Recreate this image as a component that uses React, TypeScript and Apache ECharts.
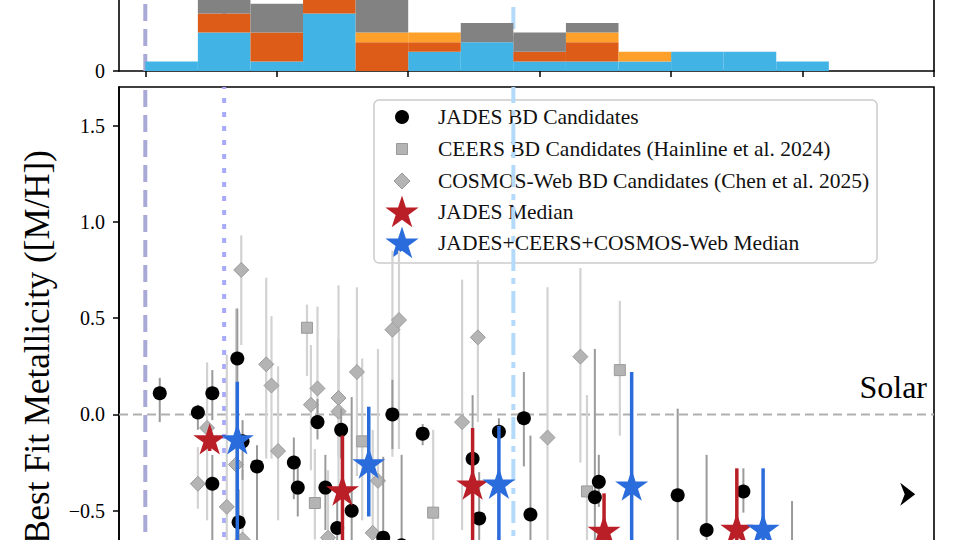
import React, { useEffect, useRef } from "react";
import * as echarts from "echarts";

// ---------- axes ----------
const xTicks = [0, 1, 2, 3, 4, 5, 6];
const yTicks = [-1.0, -0.5, 0.0, 0.5, 1.0, 1.5];
const yTickLabels = [-0.5, 0.0, 0.5, 1.0, 1.5];
const histYTicks = [0];

// ---------- top histogram (stacked counts per bin) ----------
const binEdges = [0, 0.4, 0.8, 1.2, 1.6, 2.0, 2.4, 2.8, 3.2, 3.6, 4.0, 4.4, 4.8, 5.2];
const histLightBlue = [1, 4, 1, 6, 0, 2, 3, 1, 1, 1, 2, 2, 1];
const histDarkOrange = [0, 2, 3, 2, 3, 1, 0, 1, 2, 0, 0, 0, 0];
const histOrange = [0, 0, 0, 0, 1, 1, 0, 0, 1, 1, 0, 0, 0];
const histGray = [0, 3, 3, 0, 4, 0, 2, 2, 1, 0, 0, 0, 0];

// ---------- JADES BD candidates ----------
const jadesX = [0.11, 0.40, 0.51, 0.51, 0.70, 0.74, 0.71, 0.85, 1.13, 1.16, 1.31, 1.49, 1.37, 1.57, 1.46, 1.81, 1.95, 1.88, 2.11, 2.49, 2.54, 2.69, 2.88, 2.93, 3.45, 3.42, 4.05, 4.27, 4.55, 4.92];
const jadesY = [0.11, 0.01, 0.11, -0.36, 0.29, -0.14, -0.56, -0.27, -0.25, -0.38, -0.04, -0.08, -0.38, -0.50, -0.59, -0.64, -0.68, 0.0, -0.10, -0.23, -0.54, -0.09, -0.02, -0.52, -0.35, -0.43, -0.42, -0.60, -0.40, -0.76];
const jadesLo = [-0.04, -0.08, -0.03, -0.76, 0.08, -0.34, -0.81, -0.86, -0.44, -0.53, -0.13, -0.23, -0.60, -0.72, -0.76, -0.86, -0.96, -0.18, -0.16, -0.55, -0.76, -0.18, -0.27, -0.81, -0.48, -0.76, -0.86, -0.96, -0.51, -1.07];
const jadesHi = [0.19, 0.05, 0.23, -0.21, 0.55, -0.03, -0.39, -0.16, -0.12, -0.22, 0.08, 0.03, -0.21, 0.09, -0.44, -0.22, -0.21, 0.18, -0.05, 0.10, -0.30, -0.02, 0.22, -0.11, -0.21, 0.34, 0.03, -0.21, -0.28, -0.45];

// ---------- CEERS (Hainline et al. 2024) ----------
const ceersX = [1.23, 1.29, 1.65, 2.19, 3.36, 3.61];
const ceersY = [0.45, -0.46, -0.14, -0.51, -0.40, 0.23];
const ceersLo = [0.20, -0.65, -0.55, -0.76, -0.76, -0.11];
const ceersHi = [0.57, -0.18, 0.29, -0.08, 0.10, 0.59];

// ---------- COSMOS-Web (Chen et al. 2025) ----------
const cosmosX = [0.40, 0.47, 0.62, 0.69, 0.73, 0.74, 0.92, 0.96, 1.01, 1.26, 1.31, 1.39, 1.47, 1.47, 1.61, 1.73, 1.77, 1.88, 1.93, 2.41, 2.53, 3.06, 3.31];
const cosmosY = [-0.36, -0.07, -0.48, -0.26, 0.75, -0.65, 0.26, 0.15, -0.19, 0.05, 0.135, -0.64, 0.085, 0.015, 0.22, -0.615, -0.345, 0.44, 0.49, -0.04, 0.40, -0.12, 0.30];
const cosmosLo = [-0.49, -0.55, -0.76, -0.65, 0.36, -1.07, -0.23, -0.23, -0.55, -0.29, -0.08, -0.96, -0.22, -0.44, -0.32, -0.96, -0.65, -0.22, -0.18, -0.60, -0.04, -0.76, -0.25];
const cosmosHi = [-0.17, 0.27, 0.31, 0.55, 0.93, -0.29, 0.71, 0.51, 0.25, 0.36, 0.56, -0.29, 0.67, 0.39, 0.66, -0.08, 0.34, 0.85, 0.85, 0.70, 0.80, 0.66, 0.76];

// ---------- medians ----------
const jadesMedX = [0.49, 1.50, 2.49, 3.49, 4.50];
const jadesMedY = [-0.135, -0.40, -0.37, -0.61, -0.60];
const jadesMedLo = [-0.19, -1.0, -1.0, -0.9, -0.9];
const jadesMedHi = [-0.08, -0.11, -0.07, -0.41, -0.28];

const allMedX = [0.70, 1.70, 2.69, 3.70, 4.70];
const allMedY = [-0.135, -0.26, -0.365, -0.375, -0.60];
const allMedLo = [-1.0, -0.53, -1.0, -1.0, -0.95];
const allMedHi = [0.17, 0.04, -0.06, 0.22, -0.28];

// ---------- limit marker ----------
const limitX = [5.80];
const limitY = [-0.415];

// ---------- reference lines ----------
const refLines = [0.0, 0.6, 2.8];
const solarY = 0.0;

const X_MIN = -0.2;
const X_MAX = 6.0;
const Y_MIN = -1.0;
const Y_MAX = 1.7;
const H_MAX = 7.4;

const FONT = "'Liberation Serif', 'DejaVu Serif', serif";
const C_LIGHTBLUE = "#42b3e5";
const C_DARKORANGE = "#dc5c18";
const C_ORANGE = "#fea02a";
const C_GRAY = "#828282";
const C_RED = "#ba1f28";
const C_BLUE = "#2b6cdc";

const STAR_PATH =
  "path://M0,-100L22.45,-30.9L95.1,-30.9L36.3,11.8L58.8,80.9L0,38.2L-58.8,80.9L-36.3,11.8L-95.1,-30.9L-22.45,-30.9Z";

function starPoints(cx: number, cy: number, R: number) {
  const pts: number[][] = [];
  for (let k = 0; k < 10; k++) {
    const ang = ((-90 + k * 36) * Math.PI) / 180;
    const rad = k % 2 === 0 ? R : R * 0.382;
    pts.push([cx + rad * Math.cos(ang), cy + rad * Math.sin(ang)]);
  }
  return pts;
}

function errSeries(xs: number[], los: number[], his: number[], color: string, width: number, z: number) {
  return {
    type: "custom",
    xAxisIndex: 1,
    yAxisIndex: 2,
    z,
    clip: true,
    silent: true,
    data: xs.map((x, i) => [x, los[i], his[i]]),
    encode: { x: 0, y: [1, 2] },
    renderItem: (_p: any, api: any) => {
      const a = api.coord([api.value(0), api.value(1)]);
      const b = api.coord([api.value(0), api.value(2)]);
      return {
        type: "line",
        shape: { x1: a[0], y1: a[1], x2: b[0], y2: b[1] },
        style: { stroke: color, lineWidth: width },
      };
    },
  };
}

function vLineSeries(x: number, xi: number, yi: number, y0: number, y1: number, style: any, z: number) {
  return {
    type: "custom",
    xAxisIndex: xi,
    yAxisIndex: yi,
    z,
    clip: true,
    silent: true,
    data: [[x]],
    encode: { x: 0 },
    renderItem: (_p: any, api: any) => {
      const a = api.coord([api.value(0), y0]);
      const b = api.coord([api.value(0), y1]);
      return { type: "line", shape: { x1: a[0], y1: a[1], x2: b[0], y2: b[1] }, style };
    },
  };
}

function histSeries(vals: number[], base: number[], color: string) {
  return {
    type: "custom",
    xAxisIndex: 0,
    yAxisIndex: 0,
    z: 3,
    clip: true,
    silent: true,
    data: vals
      .map((v, i) => [binEdges[i], binEdges[i + 1], base[i], base[i] + v])
      .filter((d) => d[3] > d[2]),
    encode: { x: [0, 1], y: [2, 3] },
    renderItem: (_p: any, api: any) => {
      const tl = api.coord([api.value(0), api.value(3)]);
      const br = api.coord([api.value(1), api.value(2)]);
      return {
        type: "rect",
        shape: { x: tl[0], y: tl[1], width: br[0] - tl[0], height: br[1] - tl[1] },
        style: { fill: color, stroke: null },
      };
    },
  };
}

const scatter = (xs: number[], ys: number[], extra: any) => ({
  type: "scatter",
  xAxisIndex: 1,
  yAxisIndex: 2,
  silent: true,
  data: xs.map((x, i) => [x, ys[i]]),
  ...extra,
});

export default function App() {
  const ref = useRef<HTMLDivElement>(null);
  useEffect(() => {
    if (!ref.current) return;
    const chart = echarts.init(ref.current, null, { renderer: "svg" });

    const base1 = histLightBlue.slice();
    const base2 = base1.map((b, i) => b + histDarkOrange[i]);
    const base3 = base2.map((b, i) => b + histOrange[i]);
    const zeros = histLightBlue.map(() => 0);

    const refStyles = [
      { stroke: "#a9a9d8", lineWidth: 4, lineDash: [17, 8] },
      { stroke: "#a8a8fc", lineWidth: 4, lineDash: [5, 9] },
      { stroke: "#b3dafa", lineWidth: 4, lineDash: [22, 7, 6, 7] },
    ];

    const legendRows = [117, 149, 181, 212, 243];
    const legendTexts = [
      "JADES BD Candidates",
      "CEERS BD Candidates (Hainline et al. 2024)",
      "COSMOS-Web BD Candidates (Chen et al. 2025)",
      "JADES Median",
      "JADES+CEERS+COSMOS-Web Median",
    ];
    const mx = 402;

    const line = { show: true, onZero: false, lineStyle: { color: "#000", width: 1.6 } };
    const tick = (vals: number[]) => ({
      show: true, length: 6, customValues: vals, lineStyle: { color: "#000", width: 1.5 },
    });

    chart.setOption({
      animation: false,
      backgroundColor: "#ffffff",
      grid: [
        { left: 119, right: 26, top: 0, height: 71, show: false },
        { left: 119, right: 26, top: 87, height: 520, show: true, borderColor: "#000", borderWidth: 1.6, backgroundColor: "transparent" },
      ],
      xAxis: [
        { type: "value", gridIndex: 0, min: X_MIN, max: X_MAX, axisLine: line, splitLine: { show: false }, axisTick: tick(xTicks), axisLabel: { show: false } },
        { type: "value", gridIndex: 1, min: X_MIN, max: X_MAX, axisLine: line, splitLine: { show: false }, axisTick: tick(xTicks), axisLabel: { show: false } },
      ],
      yAxis: [
        {
          type: "value", gridIndex: 0, min: 0, max: H_MAX,
          axisLine: line, splitLine: { show: false },
          axisTick: tick(histYTicks),
          axisLabel: { show: true, customValues: histYTicks, fontFamily: FONT, fontSize: 20, color: "#000", margin: 14 },
        },
        {
          type: "value", gridIndex: 0, min: 0, max: H_MAX, position: "right",
          axisLine: line,
          axisTick: { show: false }, axisLabel: { show: false }, splitLine: { show: false },
        },
        {
          type: "value", gridIndex: 1, min: Y_MIN, max: Y_MAX,
          axisLine: line, splitLine: { show: false },
          axisTick: tick(yTicks),
          axisLabel: {
            show: true, customValues: yTickLabels, fontFamily: FONT, fontSize: 20, color: "#000", margin: 14,
            formatter: (v: number) => v.toFixed(1).replace("-", "\u2212"),
          },
          name: "Best Fit Metallicity ([M/H])",
          nameLocation: "middle",
          nameGap: 64,
          nameTextStyle: { fontFamily: FONT, fontSize: 35, color: "#000" },
        },
      ],
      series: [
        ...refLines.map((x, i) => vLineSeries(x, 0, 0, 0, H_MAX, refStyles[i], 1)),
        histSeries(histLightBlue, zeros, C_LIGHTBLUE),
        histSeries(histDarkOrange, base1, C_DARKORANGE),
        histSeries(histOrange, base2, C_ORANGE),
        histSeries(histGray, base3, C_GRAY),

        ...refLines.map((x, i) => vLineSeries(x, 1, 2, Y_MIN, Y_MAX, refStyles[i], 1)),
        {
          type: "custom", xAxisIndex: 1, yAxisIndex: 2, z: 1, clip: true, silent: true,
          data: [[solarY]], encode: { y: 0 },
          renderItem: (_p: any, api: any) => {
            const a = api.coord([X_MIN, api.value(0)]);
            const b = api.coord([X_MAX, api.value(0)]);
            return {
              type: "line", shape: { x1: a[0], y1: a[1], x2: b[0], y2: b[1] },
              style: { stroke: "#b0b0b0", lineWidth: 2, lineDash: [9, 5] },
            };
          },
        },

        errSeries(ceersX, ceersLo, ceersHi, "#d2d2d2", 2.2, 2),
        errSeries(cosmosX, cosmosLo, cosmosHi, "#d2d2d2", 2.2, 2),
        scatter(ceersX, ceersY, {
          z: 3, symbol: "rect", symbolSize: 11,
          itemStyle: { color: "#b4b4b4", borderColor: "#9a9a9a", borderWidth: 1, opacity: 1 },
        }),
        scatter(cosmosX, cosmosY, {
          z: 3, symbol: "diamond", symbolSize: 15,
          itemStyle: { color: "#b4b4b4", borderColor: "#9a9a9a", borderWidth: 1, opacity: 1 },
        }),
        errSeries(jadesX, jadesLo, jadesHi, "#9a9a9a", 2, 4),
        scatter(jadesX, jadesY, { z: 5, symbol: "circle", symbolSize: 14, itemStyle: { color: "#000", opacity: 1 } }),

        errSeries(jadesMedX, jadesMedLo, jadesMedHi, C_RED, 3.5, 6),
        errSeries(allMedX, allMedLo, allMedHi, C_BLUE, 3.5, 6),
        scatter(jadesMedX, jadesMedY, {
          z: 7, symbol: STAR_PATH, symbolSize: 33, symbolKeepAspect: true, symbolOffset: [0, -1.5],
          itemStyle: { color: C_RED, opacity: 1 },
        }),
        scatter(allMedX, allMedY, {
          z: 7, symbol: STAR_PATH, symbolSize: 33, symbolKeepAspect: true, symbolOffset: [0, -1.5],
          itemStyle: { color: C_BLUE, opacity: 1 },
        }),
        scatter(limitX, limitY, {
          z: 7, symbol: "path://M0,0L15,11.5L0,23L4.5,11.5Z", symbolSize: [15, 23],
          itemStyle: { color: "#000", opacity: 1 },
        }),
      ],
      graphic: [
        {
          type: "text", x: 927, y: 387, z: 50,
          style: { text: "Solar", font: `32px ${FONT}`, fill: "#000", align: "right", verticalAlign: "middle" },
        },
        {
          type: "group", z: 100,
          children: [
            {
              type: "rect", shape: { x: 374, y: 100, width: 503, height: 163, r: 5 },
              style: { fill: "rgba(255,255,255,0.82)", stroke: "#cccccc", lineWidth: 1.5 },
            },
            { type: "circle", shape: { cx: mx, cy: legendRows[0], r: 7 }, style: { fill: "#000" } },
            {
              type: "rect", shape: { x: mx - 5.5, y: legendRows[1] - 5.5, width: 11, height: 11 },
              style: { fill: "#b4b4b4", stroke: "#9a9a9a", lineWidth: 1 },
            },
            {
              type: "polygon",
              shape: { points: [[mx, legendRows[2] - 8], [mx + 8, legendRows[2]], [mx, legendRows[2] + 8], [mx - 8, legendRows[2]]] },
              style: { fill: "#b4b4b4", stroke: "#9a9a9a", lineWidth: 1 },
            },
            { type: "polygon", shape: { points: starPoints(mx, legendRows[3] + 1, 17.5) }, style: { fill: C_RED } },
            { type: "polygon", shape: { points: starPoints(mx, legendRows[4] + 1, 17.5) }, style: { fill: C_BLUE } },
            ...legendTexts.map((t, i) => ({
              type: "text", x: 438, y: legendRows[i],
              style: { text: t, font: `21.5px ${FONT}`, fill: "#111", align: "left", verticalAlign: "middle" },
            })),
          ],
        },
      ],
    });
    return () => chart.dispose();
  }, []);

  return (
    <div
      ref={ref}
      style={{ position: "fixed", left: 0, top: 0, width: 960, height: 640, background: "#fff" }}
    />
  );
}
